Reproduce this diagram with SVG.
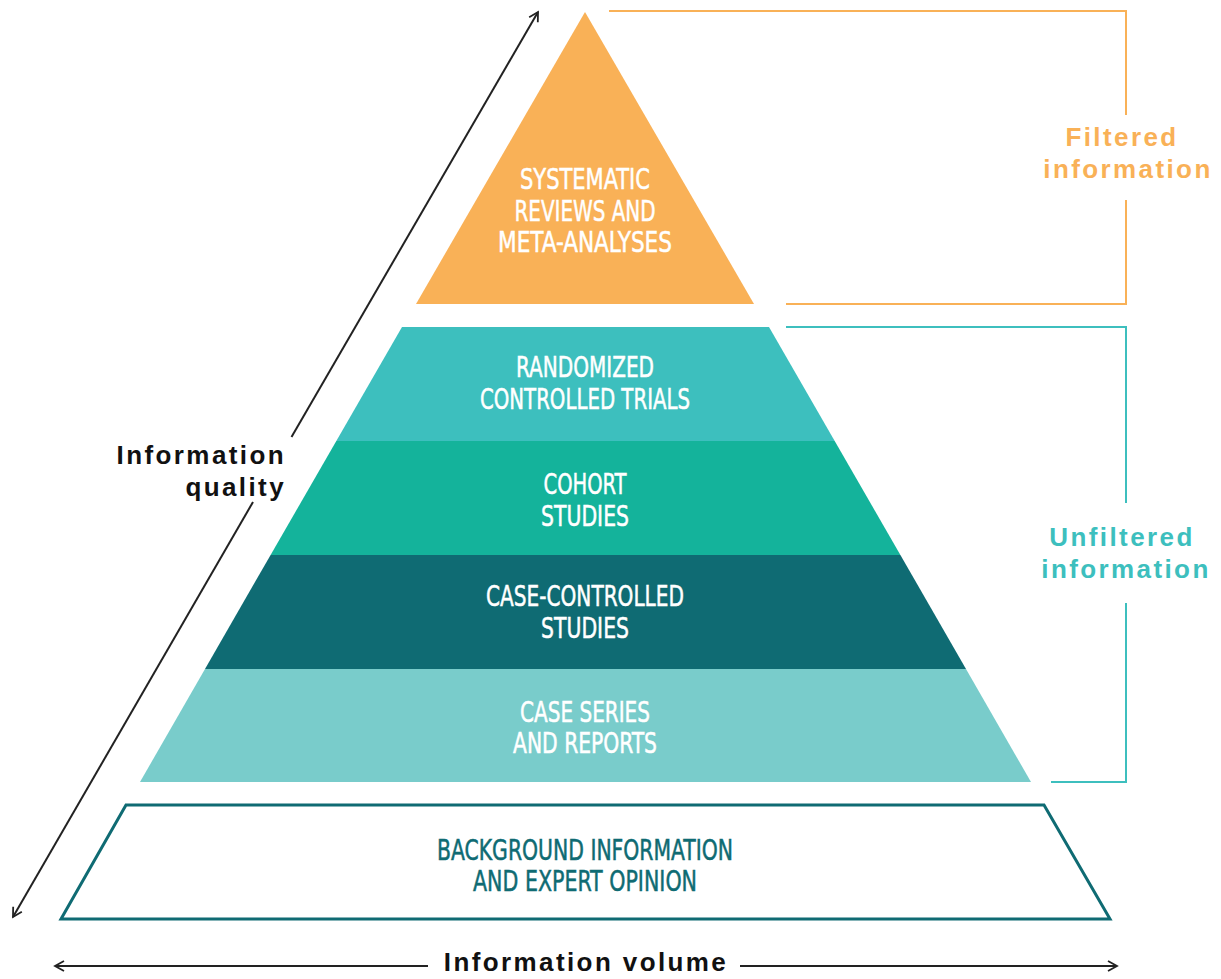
<svg xmlns="http://www.w3.org/2000/svg" width="1221" height="979" viewBox="0 0 1221 979">
<style>
.lbl{font-family:"DejaVu Sans Condensed","DejaVu Sans",sans-serif;font-size:29px;fill:#fff;stroke:#fff;stroke-width:0.5px;text-anchor:middle}
.dk{fill:#0F6B73;stroke:#0F6B73}
.side{font-family:"Liberation Sans",Arial,sans-serif;font-size:26px;font-weight:bold;letter-spacing:2.4px}
.ax{stroke:#222;stroke-width:2;fill:none}
</style>
<defs>
<marker id="ah" viewBox="0 0 12 12" refX="10" refY="6" markerWidth="12" markerHeight="12" markerUnits="userSpaceOnUse" orient="auto">
<path d="M1,1 L10,6 L1,11" fill="none" stroke="#222" stroke-width="1.8"/>
</marker>
</defs>
<rect width="1221" height="979" fill="#fff"/>
<g id="systematic">
<polygon points="585,12 754,304 416,304" fill="#F9B157"/>
<text class="lbl"><tspan x="585" y="189" textLength="130" lengthAdjust="spacingAndGlyphs">SYSTEMATIC</tspan><tspan x="585" y="221" textLength="141" lengthAdjust="spacingAndGlyphs">REVIEWS AND</tspan><tspan x="585" y="252" textLength="174" lengthAdjust="spacingAndGlyphs">META-ANALYSES</tspan></text>
</g>
<g id="rct">
<polygon points="402,327 769,327 834.7,441 336.3,441" fill="#3DBFBE"/>
<text class="lbl"><tspan x="585" y="377" textLength="138" lengthAdjust="spacingAndGlyphs">RANDOMIZED</tspan><tspan x="585" y="409" textLength="210" lengthAdjust="spacingAndGlyphs">CONTROLLED TRIALS</tspan></text>
</g>
<g id="cohort">
<polygon points="336.3,441 834.7,441 900.4,555 270.6,555" fill="#14B39B"/>
<text class="lbl"><tspan x="585" y="494" textLength="83" lengthAdjust="spacingAndGlyphs">COHORT</tspan><tspan x="585" y="526" textLength="88" lengthAdjust="spacingAndGlyphs">STUDIES</tspan></text>
</g>
<g id="casecontrolled">
<polygon points="270.6,555 900.4,555 966,669 205,669" fill="#0F6B73"/>
<text class="lbl"><tspan x="585" y="606" textLength="198" lengthAdjust="spacingAndGlyphs">CASE-CONTROLLED</tspan><tspan x="585" y="638" textLength="88" lengthAdjust="spacingAndGlyphs">STUDIES</tspan></text>
</g>
<g id="caseseries">
<polygon points="205,669 966,669 1031,782 140,782" fill="#79CCCB"/>
<text class="lbl"><tspan x="585" y="722" textLength="130" lengthAdjust="spacingAndGlyphs">CASE SERIES</tspan><tspan x="585" y="753" textLength="144" lengthAdjust="spacingAndGlyphs">AND REPORTS</tspan></text>
</g>
<g id="background">
<polygon points="126,805 1044,805 1110,919 61,919" fill="#fff" stroke="#0F6B73" stroke-width="3" stroke-linejoin="miter"/>
<text class="lbl dk"><tspan x="585" y="860" textLength="296" lengthAdjust="spacingAndGlyphs">BACKGROUND INFORMATION</tspan><tspan x="585" y="891" textLength="224" lengthAdjust="spacingAndGlyphs">AND EXPERT OPINION</tspan></text>
</g>
<g id="filtered">
<polyline points="609,11 1126,11 1126,115" fill="none" stroke="#F9B157" stroke-width="2"/>
<polyline points="1126,200 1126,304 786,304" fill="none" stroke="#F9B157" stroke-width="2"/>
<text class="side" fill="#F9B157" text-anchor="middle"><tspan x="1122" y="146">Filtered</tspan><tspan x="1128" y="178">information</tspan></text>
</g>
<g id="unfiltered">
<polyline points="786,327 1126,327 1126,503" fill="none" stroke="#3DBFBE" stroke-width="2"/>
<polyline points="1126,603 1126,782 1051,782" fill="none" stroke="#3DBFBE" stroke-width="2"/>
<text class="side" fill="#3DBFBE" text-anchor="middle"><tspan x="1122" y="546">Unfiltered</tspan><tspan x="1126" y="578">information</tspan></text>
</g>
<g id="connectors">
<line class="ax" x1="291.5" y1="437" x2="538" y2="12" marker-end="url(#ah)"/>
<line class="ax" x1="253" y1="502" x2="13" y2="917" marker-end="url(#ah)"/>
<line class="ax" x1="428" y1="966" x2="55" y2="966" marker-end="url(#ah)"/>
<line class="ax" x1="740" y1="966" x2="1117" y2="966" marker-end="url(#ah)"/>
</g>
<g id="axis-labels">
<text class="side" fill="#111" text-anchor="end"><tspan x="286" y="464">Information</tspan><tspan x="286" y="496">quality</tspan></text>
<text class="side" fill="#111" text-anchor="middle" x="586" y="971">Information volume</text>
</g>
</svg>
